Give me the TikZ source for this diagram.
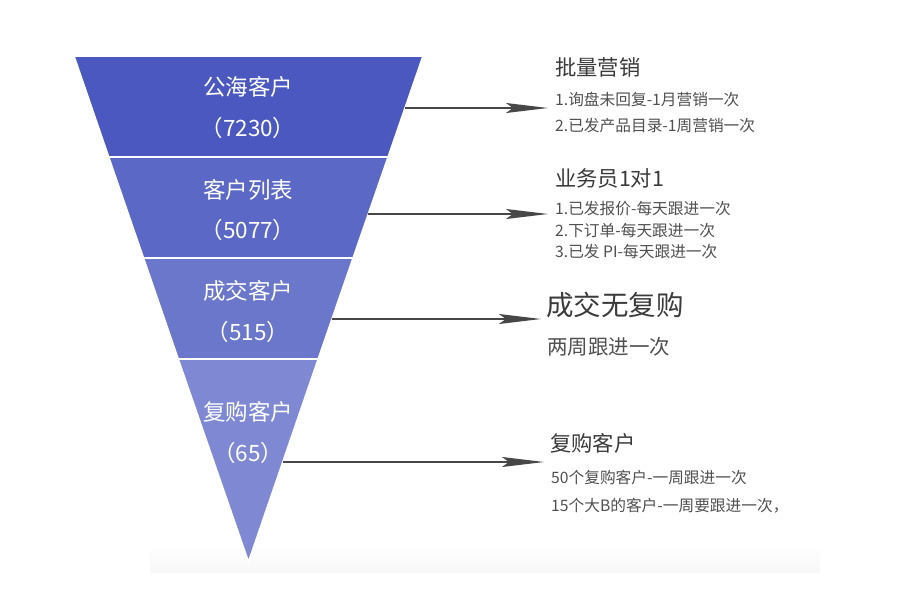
\documentclass[tikz,border=0pt]{standalone}
\usepackage{fontspec}
\setmainfont{Noto Sans CJK SC}
\usetikzlibrary{arrows.meta}
\definecolor{bandA}{HTML}{4B58C0}
\definecolor{bandB}{HTML}{5B68C6}
\definecolor{bandC}{HTML}{6B77CB}
\definecolor{bandD}{HTML}{7F89D3}
\definecolor{titlegray}{HTML}{3A3A3A}
\definecolor{itemgray}{HTML}{505050}
\definecolor{arrowgray}{HTML}{474747}
\begin{document}
\begin{tikzpicture}[x=1pt,y=-1pt,
  band/.style={draw=white,line width=1.6pt,line join=miter},
  flabel/.style={text=white,font=\fontsize{22.5}{26}\selectfont,inner sep=0pt},
  ttl/.style={anchor=west,inner sep=0pt,text=titlegray,font=\fontsize{21.3}{24}\selectfont},
  bigttl/.style={anchor=west,inner sep=0pt,text=titlegray,font=\fontsize{27.5}{30}\selectfont},
  itm/.style={anchor=west,inner sep=0pt,text=itemgray,font=\fontsize{15.7}{18}\selectfont},
  conn/.style={draw=arrowgray,line width=1.8pt,-{Stealth[length=42pt,width=10pt,inset=7pt]}}]
\useasboundingbox (0,0) rectangle (900,600);
\fill[white] (0,0) rectangle (900,600);
\shade[top color=white,bottom color=black!3] (150,545) rectangle (820,572);
% funnel bands
\path[band,fill=bandA] (74,56) -- (423,56) -- (388.1,157) -- (108.7,157) -- cycle;
\path[band,fill=bandB] (108.7,157) -- (388.1,157) -- (353.1,258) -- (143.5,258) -- cycle;
\path[band,fill=bandC] (143.5,258) -- (353.1,258) -- (318.2,359) -- (178.2,359) -- cycle;
\path[band,fill=bandD] (178.2,359) -- (318.2,359) -- (248.5,562) -- cycle;
% funnel labels
\node[flabel] (l1) at (248,87) {公海客户};
\node[flabel] (n1) at (248,128) {（7230）};
\node[flabel] (l2) at (248,190) {客户列表};
\node[flabel] (n2) at (248,230) {（5077）};
\node[flabel] (l3) at (248,291) {成交客户};
\node[flabel] (n3) at (248,332) {（515）};
\node[flabel] (l4) at (248,412) {复购客户};
\node[flabel] (n4) at (248,453) {（65）};
% connector start points on the funnel edge
\coordinate (s1) at (405,108);
\coordinate (s2) at (368.4,214);
\coordinate (s3) at (332,319);
\coordinate (s4) at (282.6,462);
\coordinate (e1) at (548,108);
\coordinate (e2) at (548,214);
\coordinate (e3) at (541,319);
\coordinate (e4) at (544,462);
% right texts
\node[ttl] (t1) at (555,67) {批量营销};
\node[itm] (i11) at (555,99) {1.询盘未回复-1月营销一次};
\node[itm] (i12) at (555,126) {2.已发产品目录-1周营销一次};
\node[ttl] (t2) at (555,178) {业务员1对1};
\node[itm] (i21) at (555,209) {1.已发报价-每天跟进一次};
\node[itm] (i22) at (555,231) {2.下订单-每天跟进一次};
\node[itm] (i23) at (555,252) {3.已发 PI-每天跟进一次};
\node[bigttl] (t3) at (546,305) {成交无复购};
\node[itm,font=\fontsize{20.5}{23}\selectfont] (i31) at (547,347) {两周跟进一次};
\node[ttl] (t4) at (550,443) {复购客户};
\node[itm] (i41) at (551,478) {50个复购客户-一周跟进一次};
\node[itm] (i42) at (551,506) {15个大B的客户-一周要跟进一次，};
% connectors
\draw[conn] (s1) -- (e1);
\draw[conn] (s2) -- (e2);
\draw[conn] (s3) -- (e3);
\draw[conn] (s4) -- (e4);
\end{tikzpicture}
\end{document}
